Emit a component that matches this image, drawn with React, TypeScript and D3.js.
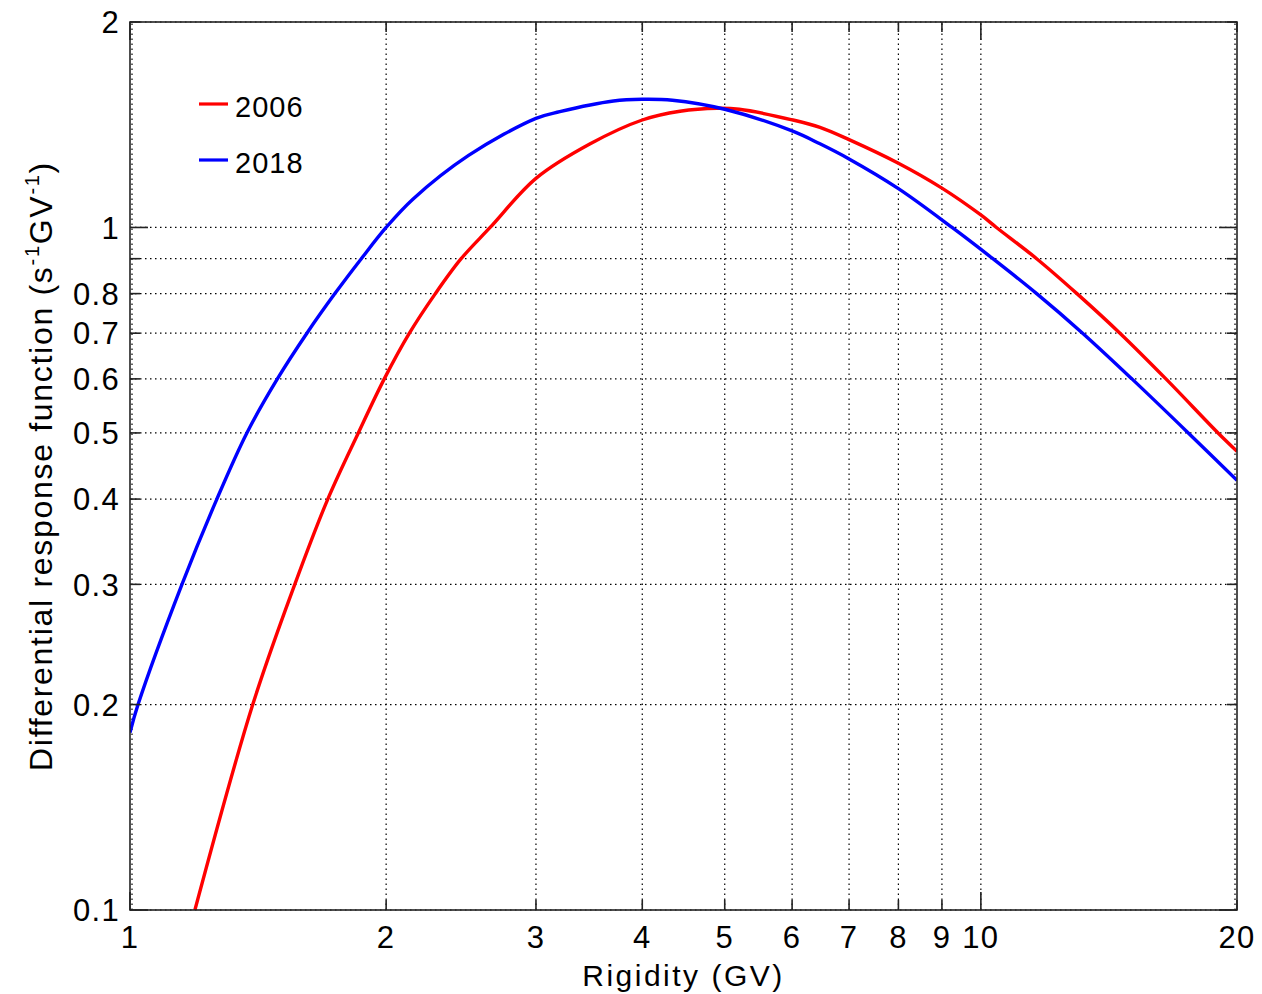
import React from "react";
import * as d3 from "d3";

// rigidity (GV) / response
const rigidity2018 = [1, 1.022, 1.151, 1.265, 1.372, 1.49, 1.614, 1.741, 1.87, 2.0, 2.15, 2.5, 3.0, 3.2, 3.7, 4.0, 4.34, 5.0, 6.0, 6.47, 7.0, 8.0, 9.25, 10.33, 11.63, 13.17, 15.05, 17.53, 20];
const response2018 = [0.182, 0.2, 0.3, 0.4, 0.5, 0.6, 0.7, 0.8, 0.9, 1.0, 1.1, 1.275, 1.445, 1.478, 1.532, 1.541, 1.536, 1.49, 1.385, 1.326, 1.26, 1.14, 1.0, 0.9, 0.8, 0.7, 0.6, 0.5, 0.426];

const rigidity2006 = [1.192, 1.394, 1.562, 1.708, 1.855, 1.99, 2.13, 2.285, 2.45, 2.65, 3.0, 3.47, 4.0, 4.43, 4.9, 5.2, 6.0, 6.47, 7.0, 8.0, 9.0, 10.0, 10.43, 11.63, 12.97, 14.57, 16.5, 19.0, 20];
const response2006 = [0.1, 0.2, 0.3, 0.4, 0.5, 0.6, 0.7, 0.8, 0.9, 1.0, 1.18, 1.325, 1.437, 1.48, 1.495, 1.49, 1.438, 1.402, 1.345, 1.242, 1.142, 1.043, 1.0, 0.9, 0.8, 0.7, 0.6, 0.5, 0.47];

const xTicks = [1, 2, 3, 4, 5, 6, 7, 8, 9, 10, 20];
const yTicks = [0.1, 0.2, 0.3, 0.4, 0.5, 0.6, 0.7, 0.8, 0.9, 1, 2];
const yTickLabels = ["0.1", "0.2", "0.3", "0.4", "0.5", "0.6", "0.7", "0.8", "", "1", "2"];

const series = [
  { name: "2006", color: "#ff0000", xs: rigidity2006, ys: response2006 },
  { name: "2018", color: "#0000ff", xs: rigidity2018, ys: response2018 },
];

const W = 1262;
const H = 994;
const margin = { top: 22, right: 25, bottom: 84, left: 130 };
const font = "'Liberation Sans', Arial, Helvetica, sans-serif";

export default function App() {
  const x = d3.scaleLog().domain([1, 20]).range([margin.left, W - margin.right]);
  const y = d3.scaleLog().domain([0.1, 2]).range([H - margin.bottom, margin.top]);
  const [x0, x1] = x.range();
  const [y0, y1] = y.range();

  const line = d3
    .line<[number, number]>()
    .x((d) => x(d[0]))
    .y((d) => y(d[1]))
    .curve(d3.curveCatmullRom.alpha(0.5));

  const isDecade = (v: number) => Math.abs(Math.log10(v) - Math.round(Math.log10(v))) < 1e-9;
  const axisColor = "#222";

  return (
    <svg width={W} height={H} style={{ position: "absolute", left: 0, top: 0, background: "#fff" }}>
      <defs>
        <clipPath id="plot">
          <rect x={x0} y={y1} width={x1 - x0} height={y0 - y1} />
        </clipPath>
      </defs>
      <rect x={0} y={0} width={W} height={H} fill="#fff" />

      {/* grid */}
      <g stroke="#000" strokeWidth={1.2} strokeDasharray="1.5 3.5">
        {xTicks.map((t) => (
          <line key={"gx" + t} x1={x(t) + (t === 1 ? 2 : t === 20 ? -2 : 0)} x2={x(t) + (t === 1 ? 2 : t === 20 ? -2 : 0)} y1={y0} y2={y1} />
        ))}
        {yTicks.map((t) => (
          <line key={"gy" + t} x1={x0} x2={x1} y1={y(t)} y2={y(t)} />
        ))}
      </g>

      {/* curves */}
      <g clipPath="url(#plot)">
        {series.map((s) => (
          <path
            key={s.name}
            d={line(s.xs.map((v, i) => [v, s.ys[i]] as [number, number])) || ""}
            fill="none"
            stroke={s.color}
            strokeWidth={3.4}
          />
        ))}
      </g>

      {/* box and ticks */}
      <g stroke={axisColor} strokeWidth={1.6} fill="none">
        <rect x={x0} y={y1} width={x1 - x0} height={y0 - y1} />
        {xTicks.map((t) => {
          const len = isDecade(t) ? 18 : 10;
          return (
            <g key={"tx" + t}>
              <line x1={x(t)} x2={x(t)} y1={y0} y2={y0 - len} />
              <line x1={x(t)} x2={x(t)} y1={y1} y2={y1 + len} />
            </g>
          );
        })}
        {yTicks.map((t) => {
          const len = isDecade(t) ? 18 : 10;
          return (
            <g key={"ty" + t}>
              <line x1={x0} x2={x0 + len} y1={y(t)} y2={y(t)} />
              <line x1={x1} x2={x1 - len} y1={y(t)} y2={y(t)} />
            </g>
          );
        })}
      </g>

      {/* tick labels */}
      <g fontFamily={font} fontSize={31} fill="#000" letterSpacing={1.3}>
        {xTicks.map((t) => (
          <text key={"lx" + t} x={x(t)} y={y0 + 38} textAnchor="middle">
            {String(t)}
          </text>
        ))}
        {yTicks.map((t, i) => (
          <text key={"ly" + t} x={x0 - 10} y={y(t)} dy="0.36em" textAnchor="end">
            {yTickLabels[i]}
          </text>
        ))}
      </g>

      {/* axis titles */}
      <text x={(x0 + x1) / 2} y={986} textAnchor="middle" fontFamily={font} fontSize={30} letterSpacing={2.5}>
        Rigidity (GV)
      </text>
      <text
        transform={`translate(52,${(y0 + y1) / 2}) rotate(-90)`}
        textAnchor="middle"
        fontFamily={font}
        fontSize={32}
        letterSpacing={1.7}
      >
        Differential response function (s
        <tspan fontSize={20} dy={-13}>-1</tspan>
        <tspan dy={13}>GV</tspan>
        <tspan fontSize={20} dy={-13}>-1</tspan>
        <tspan dy={13}>)</tspan>
      </text>

      {/* legend */}
      <g fontFamily={font} fontSize={29} letterSpacing={1}>
        {series.map((s, i) => (
          <g key={"lg" + s.name} transform={`translate(0,${i * 56})`}>
            <line x1={199} x2={228} y1={104} y2={104} stroke={s.color} strokeWidth={3.2} />
            <text x={235} y={117}>{s.name}</text>
          </g>
        ))}
      </g>
    </svg>
  );
}
